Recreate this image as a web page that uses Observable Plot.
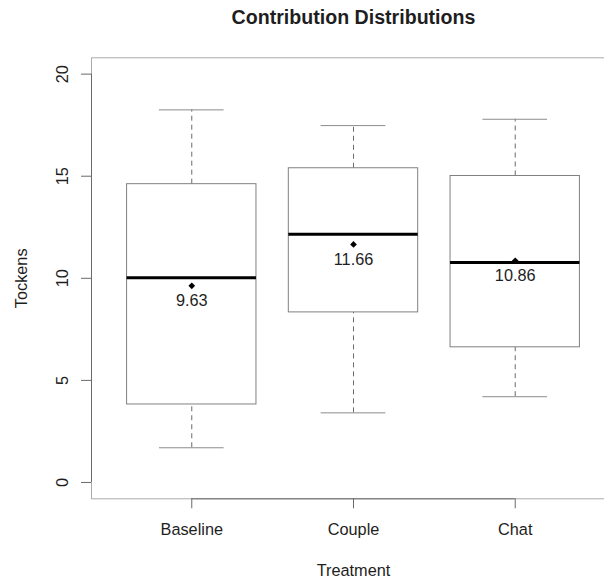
<!DOCTYPE html>
<html>
<head>
<meta charset="utf-8">
<script src="https://cdn.jsdelivr.net/npm/d3@7"></script>
<script src="https://cdn.jsdelivr.net/npm/@observablehq/plot@0.6"></script>
<style>
  html, body { margin: 0; padding: 0; background: #fff; }
</style>
</head>
<body>
<div id="chart"></div>
<script>
// Five-number summaries and means of contributions per treatment
const treatments = ["Baseline", "Couple", "Chat"];
const whiskerLow = [1.70, 3.41, 4.20];
const quartile1 = [3.82, 8.33, 6.62];
const medians = [10.03, 12.16, 10.78];
const quartile3 = [14.61, 15.39, 15.01];
const whiskerHigh = [18.25, 17.48, 17.79];
const means = [9.63, 11.66, 10.86];
const yTicks = [0, 5, 10, 15, 20];

const rows = treatments.map((t, i) => ({
  treatment: t,
  pos: i + 1,
  low: whiskerLow[i],
  q1: quartile1[i],
  median: medians[i],
  q3: quartile3[i],
  high: whiskerHigh[i],
  mean: means[i]
}));

// Axis ranges padded the way base-graphics boxplots pad them
const xDomain = [0.38, 3.62];
const yDomain = [-0.8, 20.8];
const boxHalf = 0.4;
const capHalf = 0.2;

const axisGray = "#6a6a6a";
const boxGray = "#808080";

const chart = Plot.plot({
  width: 604,
  height: 581,
  marginLeft: 91,
  marginRight: -11,
  marginTop: 57.3,
  marginBottom: 82.7,
  style: {
    fontFamily: '"Liberation Sans", Arial, Helvetica, sans-serif',
    fontSize: "16.3px",
    color: "#1e1e1e",
    background: "#fff",
    overflow: "hidden"
  },
  x: { type: "linear", domain: xDomain },
  y: { domain: yDomain },
  marks: [
    Plot.frame({ stroke: "#ababab" }),
    // whiskers
    Plot.ruleX(rows, { x: "pos", y1: "q3", y2: "high", stroke: axisGray, strokeDasharray: "5,4" }),
    Plot.ruleX(rows, { x: "pos", y1: "low", y2: "q1", stroke: axisGray, strokeDasharray: "5,4" }),
    Plot.ruleY(rows, { y: "high", x1: d => d.pos - capHalf, x2: d => d.pos + capHalf, stroke: "#8c8c8c" }),
    Plot.ruleY(rows, { y: "low", x1: d => d.pos - capHalf, x2: d => d.pos + capHalf, stroke: "#8c8c8c" }),
    // boxes
    Plot.rect(rows, { x1: d => d.pos - boxHalf, x2: d => d.pos + boxHalf, y1: "q1", y2: "q3", fill: "none", stroke: boxGray }),
    Plot.ruleY(rows, { y: "median", x1: d => d.pos - boxHalf, x2: d => d.pos + boxHalf, stroke: "#000", strokeWidth: 3 }),
    // means
    Plot.dot(rows, { x: "pos", y: "mean", symbol: "diamond2", r: 3, fill: "#000", stroke: null }),
    Plot.text(rows, { x: "pos", y: "mean", text: d => d.mean.toFixed(2), dy: 15, lineAnchor: "middle" }),
    // axes
    Plot.axisX({ ticks: [1, 2, 3], tickFormat: i => treatments[i - 1], tickSize: 10, tickPadding: 15, label: null, stroke: axisGray }),
    Plot.axisY({ ticks: yTicks, tickSize: 10, tickRotate: -90, tickPadding: 14, label: null, stroke: axisGray }),
    Plot.ruleX([xDomain[0]], { y1: yTicks[0], y2: yTicks[yTicks.length - 1], stroke: axisGray }),
    Plot.ruleY([yDomain[0]], { x1: 1, x2: 3, stroke: axisGray }),
    // titles
    Plot.text(["Contribution Distributions"], { text: d => d, frameAnchor: "top", dy: -33.8, lineAnchor: "bottom", fontWeight: "bold", fontSize: 19.6 }),
    Plot.text(["Treatment"], { text: d => d, frameAnchor: "bottom", dy: 77.4, lineAnchor: "bottom" }),
    Plot.text(["Tockens"], { text: d => d, frameAnchor: "left", dx: -64.3, rotate: -90, textAnchor: "middle", lineAnchor: "bottom" })
  ]
});

document.getElementById("chart").appendChild(chart);
</script>
</body>
</html>
